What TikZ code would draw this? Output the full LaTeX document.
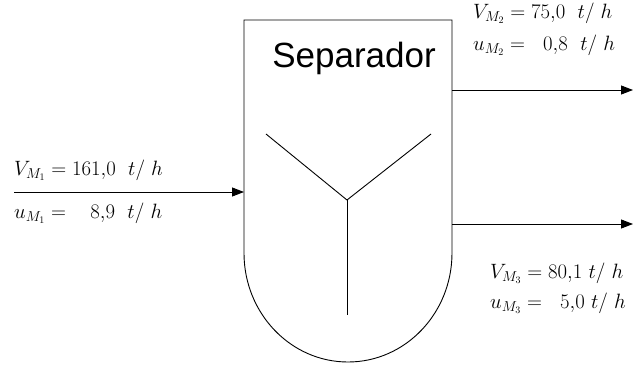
\documentclass[tikz,border=0pt]{standalone}
\usepackage{amsmath}
\usepackage{fontspec}
\setsansfont{Liberation Sans}
\usepackage{tikz}
\usetikzlibrary{arrows.meta}

\tikzset{
  flow/.style={-{Triangle[length=12pt,width=9pt]}, line width=0.9pt},
  vessel/.style={line width=0.9pt},
  streamval/.style={anchor=base west, inner sep=0pt, font=\fontsize{20.5}{20.5}\selectfont}
}

\begin{document}
\begin{tikzpicture}[x=1pt,y=-1pt]
  \useasboundingbox (0,0) rectangle (633,370);
  % separator vessel
  \draw[vessel] (244,20) -- (452,20) -- (452,253)
    arc[start angle=0, end angle=-180, x radius=104pt, y radius=109pt] -- cycle;
  \node[font=\sffamily\fontsize{35}{35}\selectfont, inner sep=0pt] (sep) at (354,58) {Separador};
  \coordinate (yl) at (266,134);
  \coordinate (yr) at (431,134);
  \coordinate (yc) at (347,200);
  \coordinate (yb) at (347,315);
  \draw[vessel] (yl) -- (yc) -- (yr);
  \draw[vessel] (yc) -- (yb);
  % streams
  \coordinate (in0) at (14,192);
  \coordinate (in1) at (244,192);
  \coordinate (outa0) at (452,90);
  \coordinate (outa1) at (633,90);
  \coordinate (outb0) at (452,224);
  \coordinate (outb1) at (633,224);
  \draw[flow] (in0) -- (in1);
  \draw[flow] (outa0) -- (outa1);
  \draw[flow] (outb0) -- (outb1);
  % stream values
  \node[streamval] (v1) at (14,175) {$V_{M_1} = 161{,}0\ \ t/\ h$};
  \node[streamval] (u1) at (14,218) {$u_{M_1} = \ \ \ 8{,}9\ \ t/\ h$};
  \node[streamval] (v2) at (473,18) {$V_{M_2} = 75{,}0\ \ t/\ h$};
  \node[streamval] (u2) at (473,50) {$u_{M_2} = \ \ 0{,}8\ \ t/\ h$};
  \node[streamval] (v3) at (490,278) {$V_{M_3} = 80{,}1\ t/\ h$};
  \node[streamval] (u3) at (490,308) {$u_{M_3} = \ \ 5{,}0\ t/\ h$};
\end{tikzpicture}
\end{document}
